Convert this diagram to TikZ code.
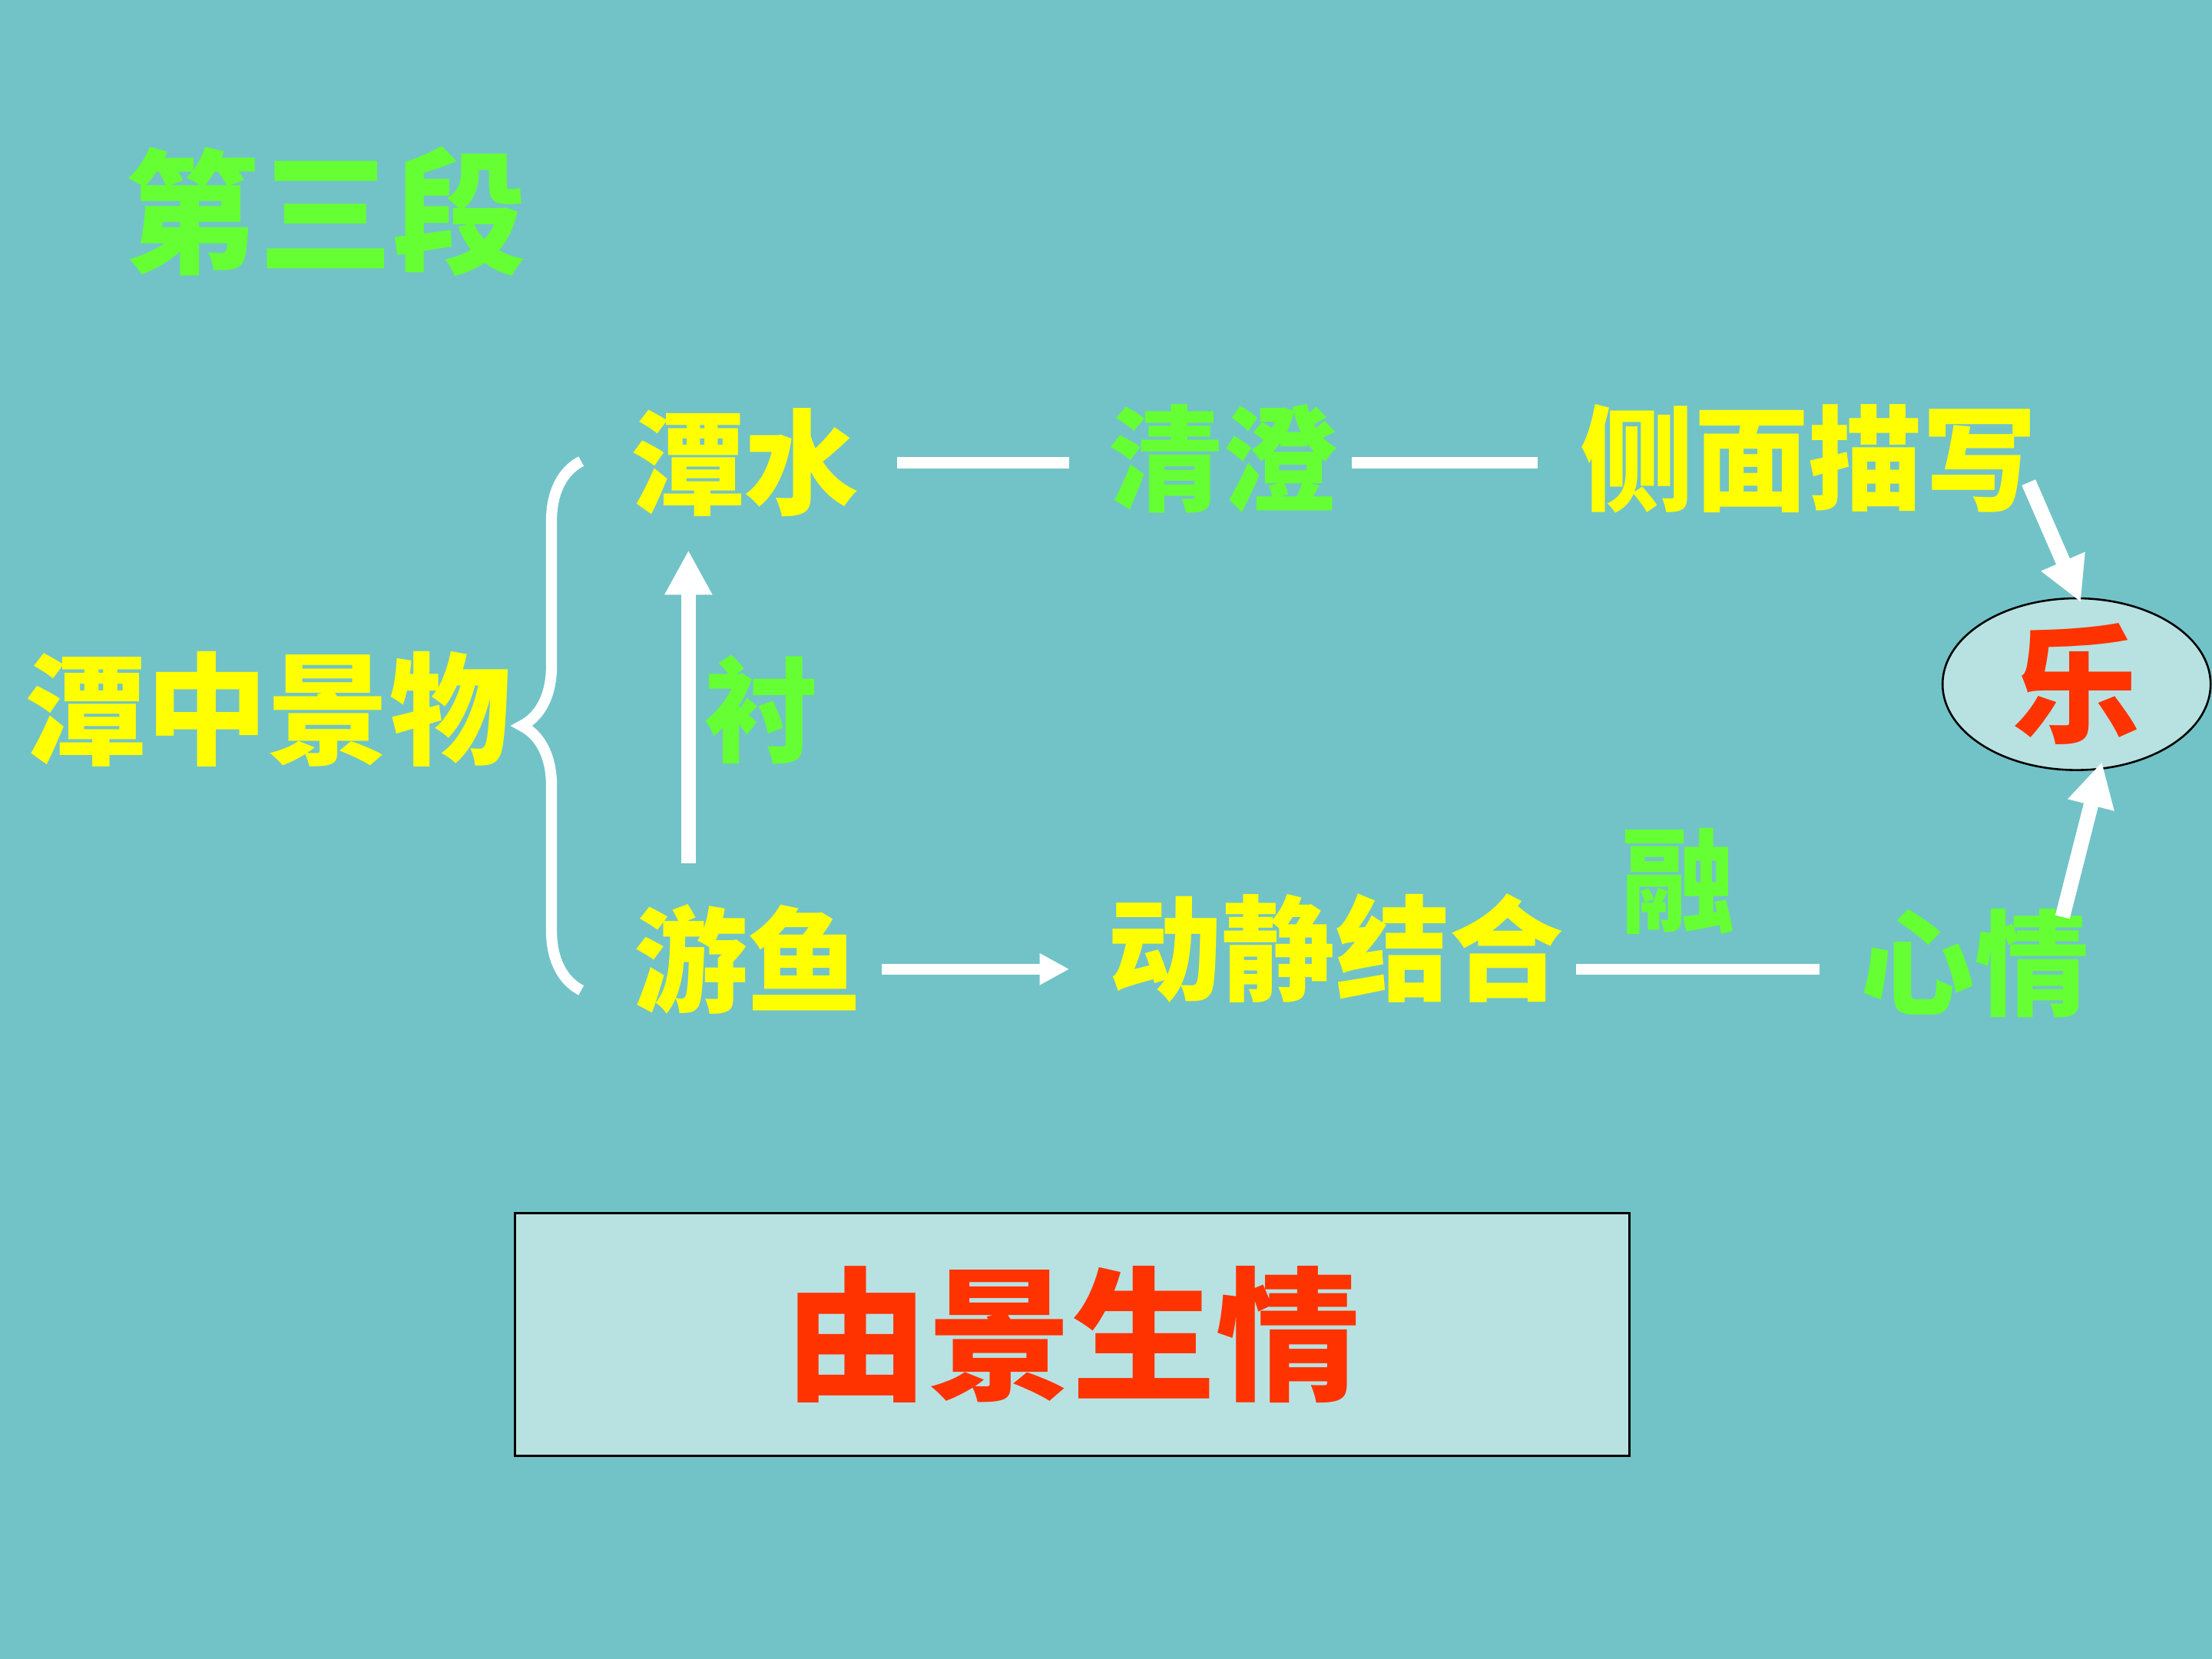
\documentclass[tikz,border=0pt]{standalone}
\usepackage{fontspec}
\setmainfont{Noto Sans CJK SC}
\usetikzlibrary{decorations.pathreplacing,arrows.meta,shapes.geometric}
\definecolor{bg}{HTML}{72C3C7}
\definecolor{yel}{HTML}{FFFF00}
\definecolor{grn}{HTML}{66FF33}
\definecolor{redc}{HTML}{FF3300}
\definecolor{boxc}{HTML}{B8E2E2}
\begin{document}
\begin{tikzpicture}[x=1cm,y=-1cm,
  y1/.style={text=yel,font=\fontsize{23}{23}\selectfont\bfseries,inner sep=0},
  g1/.style={text=grn,font=\fontsize{23}{23}\selectfont\bfseries,inner sep=0},
  ln/.style={white,line width=2.2pt},
  ar/.style={white,line width=3pt,-{Triangle[length=9pt,width=9pt]}}]
\fill[bg] (0,0) rectangle (15.68,11.76);
\useasboundingbox (0,0) rectangle (15.68,11.76);
\node[g1,font=\fontsize{27}{27}\selectfont\bfseries] (title) at (2.31,1.5) {第三段};
\node[y1,font=\fontsize{24.5}{24.5}\selectfont\bfseries] (main) at (1.9,5.03) {潭中景物};
\coordinate (bt) at (4.12,3.27); \coordinate (bb) at (4.12,7.02);
\draw[white,line width=2.2pt,decoration={brace,amplitude=12pt,mirror},decorate] (bt) -- (bb);
\node[y1] (tanshui) at (5.28,3.28) {潭水};
\node[g1] (qc) at (8.67,3.25) {清澄};
\node[y1] (cm) at (12.82,3.25) {侧面描写};
\node[draw=black,fill=boxc,ellipse,minimum width=1.9cm,minimum height=1.1cm,inner sep=0,text=redc,font=\fontsize{26}{26}\selectfont\bfseries] (le) at (14.72,4.85) {乐};
\node[g1] (chen) at (5.4,5.03) {衬};
\node[y1] (youyu) at (5.3,6.8) {游鱼};
\node[y1] (djjh) at (9.47,6.72) {动静结合};
\node[g1] (rong) at (11.9,6.25) {融};
\node[g1] (xq) at (14.0,6.83) {心情};
\node[draw=black,fill=boxc,minimum width=7.9cm,minimum height=1.72cm,text=redc,font=\fontsize{29}{29}\selectfont\bfseries] (box) at (7.6,9.46) {由景生情};
\draw[ln] (6.36,3.28) -- (7.58,3.28);
\draw[ln] (9.58,3.28) -- (10.9,3.28);
\draw[ar] (14.38,3.42) -- (14.75,4.27);
\draw[ar] (4.88,6.12) -- (4.88,3.9);
\draw[white,line width=2.2pt,-{Triangle[length=6pt,width=6pt]}] (6.25,6.87) -- (7.58,6.87);
\draw[ln] (11.17,6.87) -- (12.9,6.87);
\draw[ar] (14.62,6.5) -- (14.9,5.4);
\end{tikzpicture}
\end{document}
